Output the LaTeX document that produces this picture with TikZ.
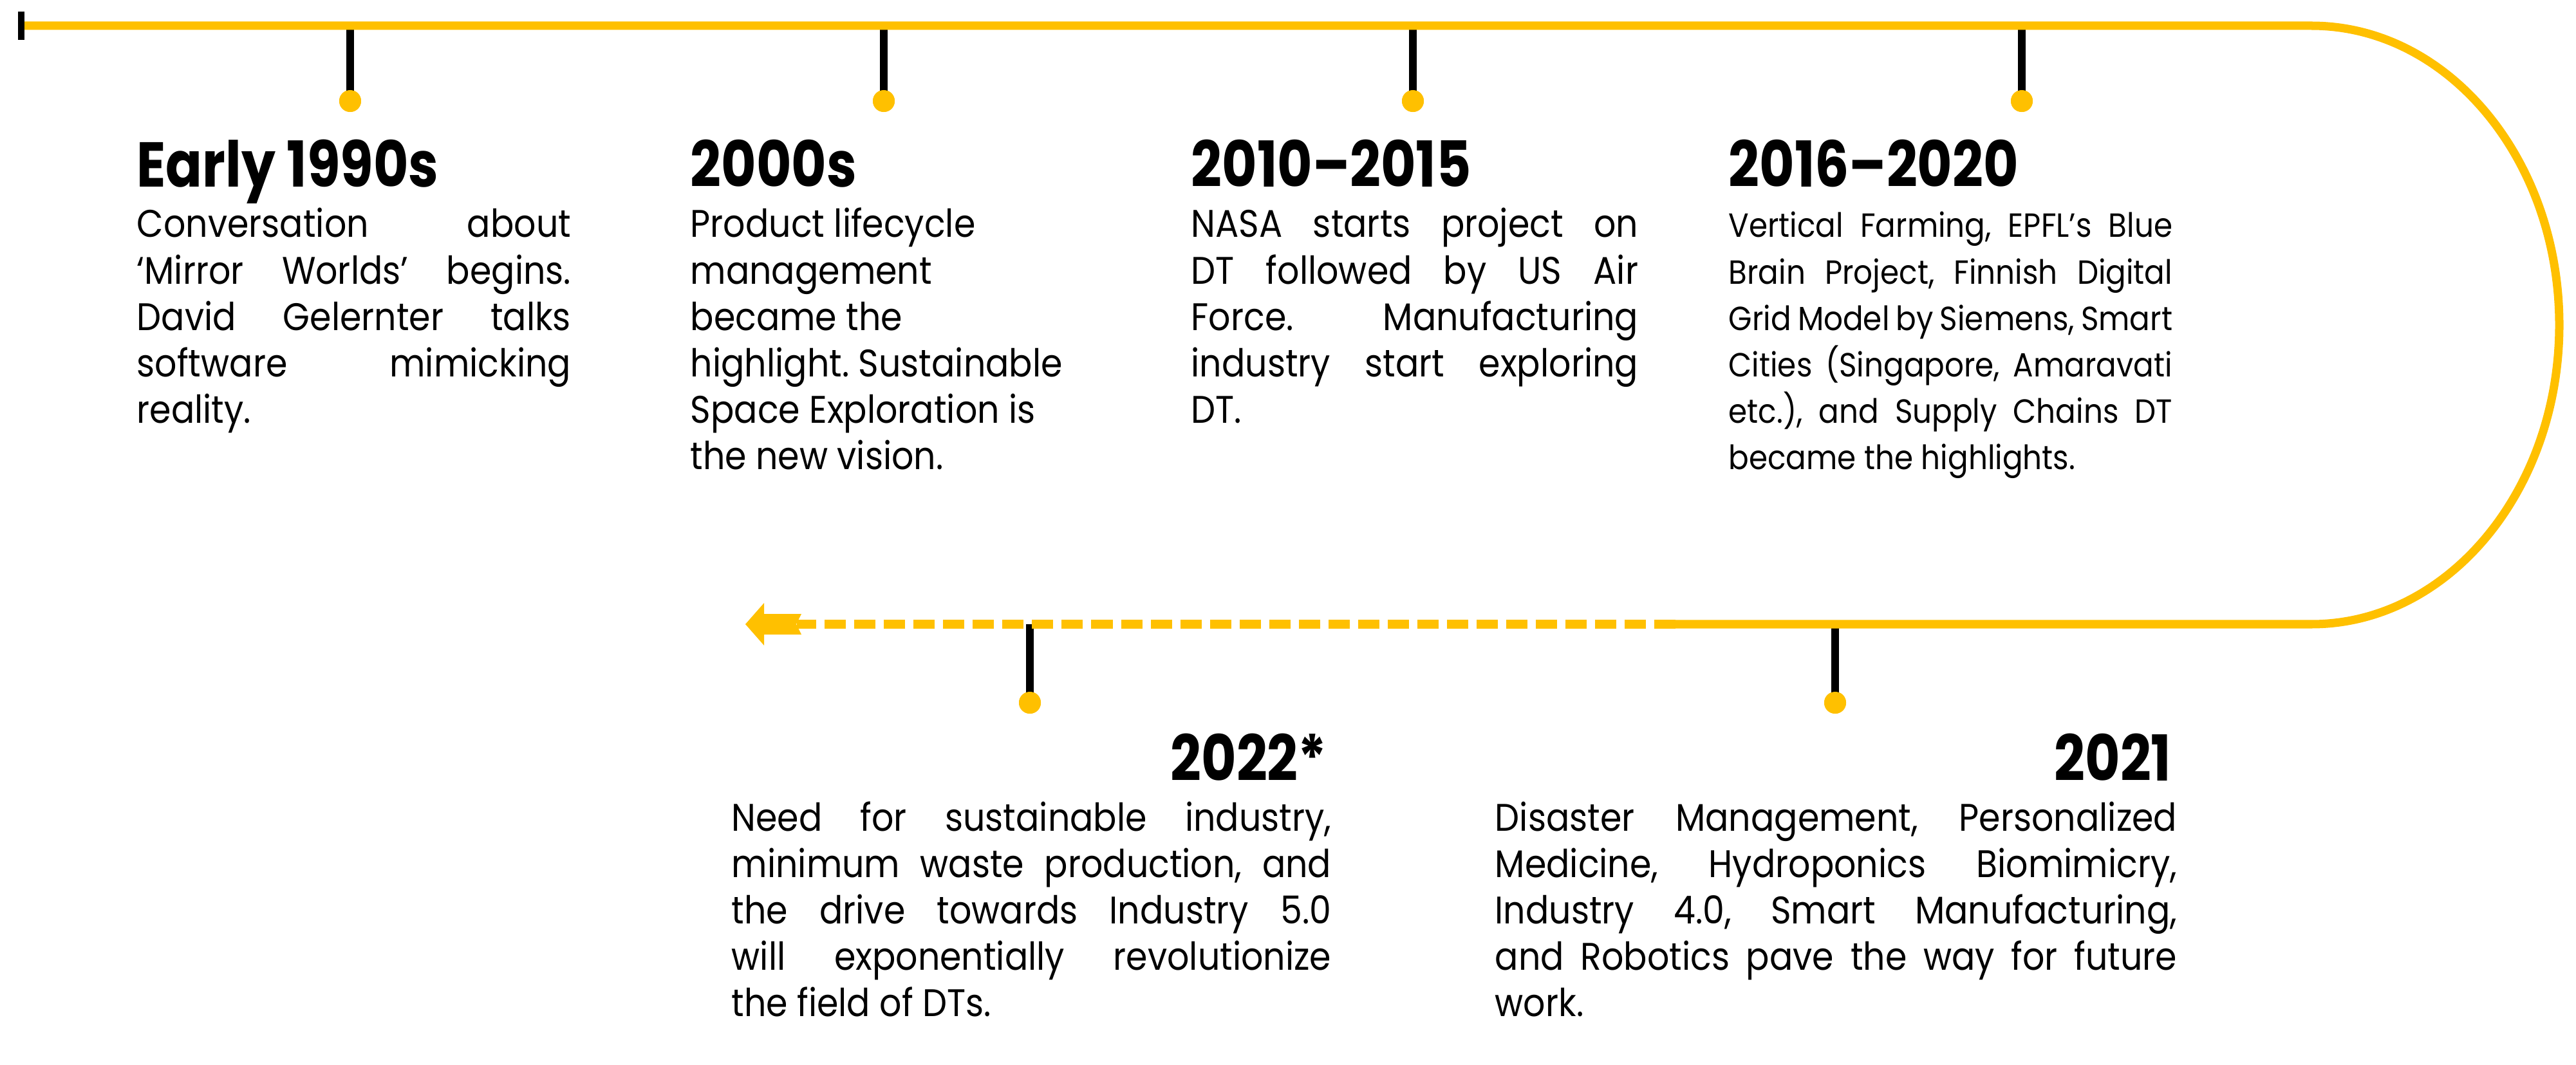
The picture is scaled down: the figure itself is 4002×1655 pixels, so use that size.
\documentclass[tikz,border=0pt]{standalone}
\usepackage{fontspec}
\setmainfont{Poppins}[FakeStretch=0.85]
\newfontfamily\bodyfont{Poppins}[FakeStretch=0.9]
\frenchspacing
\definecolor{gold}{HTML}{FFC000}
\tikzset{
  gline/.style={draw=gold, line width=3.7pt},
  gdash/.style={draw=gold, line width=3.7pt, dash pattern=on 0.33cm off 0.13cm},
  tickln/.style={draw=black, line width=3.2pt},
  starttick/.style={draw=black, line width=2.8pt},
  dotnode/.style={circle, fill=gold, minimum size=0.34cm, inner sep=0pt},
  head/.style={inner sep=0pt, font=\fontsize{28}{32}\selectfont\bfseries},
  body/.style={inner sep=0pt, font=\bodyfont\fontsize{17}{20.5}\selectfont},
  bodysmall/.style={inner sep=0pt, font=\bodyfont\fontsize{14.8}{20.5}\selectfont},
}
\newcommand{\jl}[1]{\makebox[\linewidth][s]{#1}}
\newcommand{\tbox}[2]{\parbox[t]{#1}{#2}}
\begin{document}
\begin{tikzpicture}[x=0.01cm,y=-0.01cm]
\useasboundingbox (0,0) rectangle (4002,1655);
% path coordinates
\coordinate (s0) at (33,40);
\coordinate (s1) at (33,18);
\coordinate (s2) at (33,62);
\coordinate (topend) at (3591,40);
\coordinate (solidend) at (2603,970);
\coordinate (dashend) at (1238,970);
% tick anchors
\coordinate (t1) at (544,40);
\coordinate (t2) at (1373,40);
\coordinate (t3) at (2195,40);
\coordinate (t4) at (3141,40);
\coordinate (t5) at (1600,970);
\coordinate (t6) at (2851,970);
% dots
\node[dotnode] (d1) at (544,157) {};
\node[dotnode] (d2) at (1373,157) {};
\node[dotnode] (d3) at (2195,157) {};
\node[dotnode] (d4) at (3141,157) {};
\node[dotnode] (d5) at (1600,1092) {};
\node[dotnode] (d6) at (2851,1092) {};
% ticks
\foreach \i in {1,...,6} \draw[tickln] (t\i) -- (d\i.center);
\foreach \i in {1,...,6} \node[dotnode] at (d\i) {};
% main line
\draw[gline] (s0) -- (topend) arc[start angle=-90, end angle=90, x radius=385, y radius=465] -- (solidend);
\draw[gdash] (solidend) -- (dashend);
% start tick
\draw[starttick] (s1) -- (s2);
% arrow head
\fill[gold] (1158,970) -- (1187,937) -- (1187,954) -- (1245,954) -- (1237,970) -- (1245,986) -- (1187,986) -- (1187,1003) -- cycle;
% headings
\node[head, anchor=base west] (h1) at (212,291) {Early 1990s};
\node[head, anchor=base west] (h2) at (1072,291) {2000s};
\node[head, anchor=base west] (h3) at (1850,291) {2010–2015};
\node[head, anchor=base west] (h4) at (2685,291) {2016–2020};
\node[head, anchor=base east] (h5) at (2062,1213) {2022*};
\node[head, anchor=base east] (h6) at (3374,1213) {2021};
% bodies
\node[body, anchor=base west] (b1) at (212,369) {\tbox{6.74cm}{\jl{Conversation about}\\ \jl{‘Mirror Worlds’ begins.}\\ \jl{David Gelernter talks}\\ \jl{software mimicking}\\ reality.}};
\node[body, anchor=base west] (b2) at (1072,369) {\tbox{6.6cm}{Product lifecycle\\ management\\ became the\\ highlight. Sustainable\\ Space Exploration is\\ the new vision.}};
\node[body, anchor=base west] (b3) at (1850,369) {\tbox{6.94cm}{\jl{NASA starts project on}\\ \jl{DT followed by US Air}\\ \jl{Force. Manufacturing}\\ \jl{industry start exploring}\\ DT.}};
\node[bodysmall, anchor=base west] (b4) at (2685,369) {\tbox{6.89cm}{\jl{Vertical Farming, EPFL’s Blue}\\ \jl{Brain Project, Finnish Digital}\\ \jl{Grid Model by Siemens, Smart}\\ \jl{Cities (Singapore, Amaravati}\\ \jl{etc.), and Supply Chains DT}\\ became the highlights.}};
\node[body, anchor=base west] (b5) at (1136,1291) {\tbox{9.31cm}{\jl{Need for sustainable industry,}\\ \jl{minimum waste production, and}\\ \jl{the drive towards Industry 5.0}\\ \jl{will exponentially revolutionize}\\ the field of DTs.}};
\node[body, anchor=base west] (b6) at (2322,1291) {\tbox{10.59cm}{\jl{Disaster Management, Personalized}\\ \jl{Medicine, Hydroponics Biomimicry,}\\ \jl{Industry 4.0, Smart Manufacturing,}\\ \jl{and Robotics pave the way for future}\\ work.}};
\end{tikzpicture}
\end{document}
